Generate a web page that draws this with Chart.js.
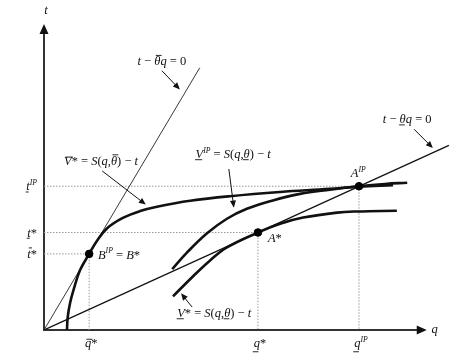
<!DOCTYPE html>
<html>
<head>
<meta charset="utf-8">
<script src="https://cdn.jsdelivr.net/npm/chart.js@4.4.0/dist/chart.umd.min.js"></script>
<style>
  html, body { margin: 0; padding: 0; background: #fff; }
  #wrap { width: 475px; height: 355px; }
</style>
</head>
<body>
<div id="wrap"><canvas id="grafica" width="475" height="355"></canvas></div>
<script>
// Rectas de beneficio nulo (extremos)
const rectaAlta = [{x: 0, y: 0}, {x: 4.07, y: 6.86}];    // t - θ̄q = 0
const rectaBaja = [{x: 0, y: 0}, {x: 10.58, y: 4.83}];   // t - θq = 0

// Curvas de indiferencia (puntos leídos a ojo)
const curvaVAltaEstrella = [
    {x: 0.60, y: 0.00}, {x: 0.62, y: 0.34}, {x: 0.68, y: 0.70}, {x: 0.77, y: 1.04},
    {x: 0.94, y: 1.56}, {x: 1.18, y: 1.99}, {x: 1.39, y: 2.34}, {x: 1.65, y: 2.66},
    {x: 2.06, y: 2.93}, {x: 2.51, y: 3.11}, {x: 2.98, y: 3.23}, {x: 3.82, y: 3.38},
    {x: 4.86, y: 3.50}, {x: 6.17, y: 3.61}, {x: 7.47, y: 3.69}, {x: 8.23, y: 3.75},
    {x: 9.12, y: 3.79}
];
const curvaVBajaIP = [
    {x: 3.35, y: 1.59}, {x: 3.74, y: 2.03}, {x: 4.26, y: 2.53}, {x: 4.78, y: 2.91},
    {x: 5.30, y: 3.17}, {x: 5.98, y: 3.39}, {x: 6.69, y: 3.56}, {x: 7.47, y: 3.67},
    {x: 8.23, y: 3.76}, {x: 8.91, y: 3.82}, {x: 9.49, y: 3.85}
];
const curvaVBajaEstrella = [
    {x: 3.37, y: 0.88}, {x: 3.89, y: 1.40}, {x: 4.34, y: 1.82}, {x: 4.78, y: 2.16},
    {x: 5.59, y: 2.55}, {x: 6.17, y: 2.78}, {x: 6.77, y: 2.94}, {x: 7.66, y: 3.07},
    {x: 8.18, y: 3.10}, {x: 9.22, y: 3.12}
];

// Contratos: B* (=B^IP), A*, A^IP
const puntosContrato = [{x: 1.18, y: 1.99}, {x: 5.59, y: 2.55}, {x: 8.23, y: 3.76}];

// Etiquetas de los ejes (segmentos: texto, estilo)
// i = cursiva, n = normal, b = barra encima, u = subrayado, U = subrayado bajo descendente, s = superíndice
const etiquetasT = [
    [['t', 'iu'], ['IP', 'is']],
    [['t', 'iu'], ['*', 'n']],
    [['t', 'ib'], ['*', 'n']]
];
const ordenT = [2, 1, 0]; // qué contrato da cada t
const etiquetasQ = [
    [['q', 'ib'], ['*', 'n']],
    [['q', 'iU'], ['*', 'n']],
    [['q', 'iU'], ['IP', 'is']]
];

// Anotaciones con flecha (en unidades de la gráfica)
const anotaciones = [
    {texto: [['t', 'i'], [' − ', 'n'], ['θ', 'ib'], ['q', 'i'], [' = 0', 'n']],
     x: 3.08, y: 6.92, alinear: 'center', flecha: [3.08, 6.78, 3.55, 6.29]},
    {texto: [['V', 'ib'], ['*', 'n'], [' = ', 'n'], ['S', 'i'], ['(', 'n'], ['q', 'i'], [',', 'n'], ['θ', 'ib'], [')', 'n'], [' − ', 'n'], ['t', 'i']],
     x: 1.49, y: 4.32, alinear: 'center', flecha: [1.52, 4.16, 2.66, 3.28]},
    {texto: [['V', 'iu'], ['IP', 'is'], [' = ', 'n'], ['S', 'i'], ['(', 'n'], ['q', 'i'], [',', 'n'], ['θ', 'iu'], [')', 'n'], [' − ', 'n'], ['t', 'i']],
     x: 4.94, y: 4.50, alinear: 'center', flecha: [4.83, 4.21, 4.96, 3.20]},
    {texto: [['t', 'i'], [' − ', 'n'], ['θ', 'iu'], ['q', 'i'], [' = 0', 'n']],
     x: 9.49, y: 5.41, alinear: 'center', flecha: [9.67, 5.25, 10.16, 4.76]},
    {texto: [['V', 'iu'], ['*', 'n'], [' = ', 'n'], ['S', 'i'], ['(', 'n'], ['q', 'i'], [',', 'n'], ['θ', 'iu'], [')', 'n'], [' − ', 'n'], ['t', 'i']],
     x: 3.48, y: 0.34, alinear: 'left', flecha: [3.87, 0.60, 3.58, 0.96]},
    {texto: [['A', 'i'], ['IP', 'is']], x: 8.21, y: 4.00, alinear: 'center'},
    {texto: [['A', 'i'], ['*', 'n']], x: 5.85, y: 2.29, alinear: 'left'},
    {texto: [['B', 'i'], ['IP', 'is'], [' = ', 'n'], ['B', 'i'], ['*', 'n']], x: 1.41, y: 1.87, alinear: 'left'}
];

const FUENTE = '"Liberation Serif", "DejaVu Serif", serif';
const TAM = 12.5;

// Dibuja texto matemático simple
function dibujarTexto(ctx, segs, x, y, alinear, tam) {
    const fuenteDe = (st) => (st.includes('i') ? 'italic ' : '') + (st.includes('s') ? tam * 0.62 : tam) + 'px ' + FUENTE;
    let total = 0;
    const anchos = segs.map(([txt, st]) => {
        ctx.font = fuenteDe(st);
        const w = ctx.measureText(txt).width;
        total += w;
        return w;
    });
    let cx = x;
    if (alinear === 'center') cx = x - total / 2;
    if (alinear === 'right') cx = x - total;
    ctx.fillStyle = '#111';
    ctx.strokeStyle = '#111';
    ctx.lineWidth = 0.9;
    ctx.textBaseline = 'alphabetic';
    ctx.textAlign = 'left';
    segs.forEach(([txt, st], k) => {
        ctx.font = fuenteDe(st);
        const yy = st.includes('s') ? y - tam * 0.42 : y;
        ctx.fillText(txt, cx, yy);
        const w = anchos[k];
        if (st.includes('b')) {
            const ya = y - tam * (txt === 'θ' || txt === 't' ? 0.8 : 0.62);
            ctx.beginPath(); ctx.moveTo(cx + tam * 0.12, ya); ctx.lineTo(cx + w + tam * 0.1, ya); ctx.stroke();
        }
        if (st.includes('u')) {
            const yb = y + tam * 0.14;
            ctx.beginPath(); ctx.moveTo(cx - 0.5, yb); ctx.lineTo(cx + w - 1, yb); ctx.stroke();
        }
        if (st.includes('U')) {
            const yb = y + tam * 0.38;
            ctx.beginPath(); ctx.moveTo(cx - 1, yb); ctx.lineTo(cx + w - 1.5, yb); ctx.stroke();
        }
        cx += w;
    });
}

function flecha(ctx, x1, y1, x2, y2, largo, ancho) {
    const ang = Math.atan2(y2 - y1, x2 - x1);
    ctx.beginPath();
    ctx.moveTo(x1, y1);
    ctx.lineTo(x2 - Math.cos(ang) * largo * 0.8, y2 - Math.sin(ang) * largo * 0.8);
    ctx.stroke();
    ctx.beginPath();
    ctx.moveTo(x2, y2);
    ctx.lineTo(x2 - Math.cos(ang) * largo + Math.sin(ang) * ancho, y2 - Math.sin(ang) * largo - Math.cos(ang) * ancho);
    ctx.lineTo(x2 - Math.cos(ang) * largo - Math.sin(ang) * ancho, y2 - Math.sin(ang) * largo + Math.cos(ang) * ancho);
    ctx.closePath();
    ctx.fill();
}

// Ejes con flecha
const pluginEjes = {
    id: 'ejes',
    beforeDatasetsDraw(chart) {
        const {ctx, scales: {x, y}} = chart;
        const x0 = x.getPixelForValue(0), y0 = y.getPixelForValue(0);
        ctx.save();
        ctx.strokeStyle = '#333';
        ctx.fillStyle = '#111';
        ctx.lineWidth = 2;
        flecha(ctx, x0, y0 + 1, x0, y.getPixelForValue(8.0), 10, 4.5);
        flecha(ctx, x0 - 1, y0, x.getPixelForValue(10.0), y0, 10, 4.5);
        ctx.restore();
    }
};

// Textos y flechas de anotación
const pluginTextos = {
    id: 'textos',
    afterDatasetsDraw(chart) {
        const {ctx, scales: {x, y}} = chart;
        ctx.save();
        anotaciones.forEach((a) => {
            if (a.flecha) {
                ctx.strokeStyle = '#111';
                ctx.fillStyle = '#111';
                ctx.lineWidth = 1;
                const [q1, t1, q2, t2] = a.flecha;
                flecha(ctx, x.getPixelForValue(q1), y.getPixelForValue(t1), x.getPixelForValue(q2), y.getPixelForValue(t2), 7, 3);
            }
            dibujarTexto(ctx, a.texto, x.getPixelForValue(a.x), y.getPixelForValue(a.y), a.alinear, TAM);
        });
        const x0 = x.getPixelForValue(0), y0 = y.getPixelForValue(0);
        etiquetasT.forEach((segs, k) => {
            const p = puntosContrato[ordenT[k]];
            dibujarTexto(ctx, segs, x0 - 7, y.getPixelForValue(p.y) + 4, 'right', TAM);
        });
        etiquetasQ.forEach((segs, k) => {
            dibujarTexto(ctx, segs, x.getPixelForValue(puntosContrato[k].x) + 2, y0 + 17, 'center', TAM);
        });
        dibujarTexto(ctx, [['t', 'i']], x0 + 2, y.getPixelForValue(8.0) - 10, 'center', TAM);
        dibujarTexto(ctx, [['q', 'i']], x.getPixelForValue(10.0) + 8, y0 + 3, 'center', TAM);
        ctx.restore();
    }
};

// Guías punteadas desde cada contrato hasta los ejes
const guias = puntosContrato.map((p) => ({
    data: [{x: 0, y: p.y}, {x: p.x, y: p.y}, {x: p.x, y: 0}],
    borderColor: '#9a9a9a',
    borderWidth: 1,
    borderDash: [1.5, 1.5],
    pointRadius: 0,
    tension: 0,
    order: 5
}));

const curva = (datos) => ({
    data: datos,
    borderColor: '#111',
    borderWidth: 2.6,
    pointRadius: 0,
    tension: 0.4,
    order: 2
});

const config = {
    type: 'line',
    data: {
        datasets: [
            {data: puntosContrato, showLine: false, pointRadius: 3.8, pointBackgroundColor: '#000', pointBorderColor: '#000', order: 0},
            curva(curvaVAltaEstrella),
            curva(curvaVBajaIP),
            curva(curvaVBajaEstrella),
            {data: rectaAlta, borderColor: '#222', borderWidth: 0.9, pointRadius: 0, order: 3},
            {data: rectaBaja, borderColor: '#111', borderWidth: 1.3, pointRadius: 0, order: 3},
            ...guias
        ]
    },
    options: {
        responsive: false,
        animation: false,
        devicePixelRatio: 1,
        layout: {padding: {left: 44, right: 10, top: 3, bottom: 25}},
        scales: {
            x: {type: 'linear', min: 0, max: 11, display: false},
            y: {type: 'linear', min: 0, max: 8.5, display: false}
        },
        plugins: {legend: {display: false}, tooltip: {enabled: false}}
    },
    plugins: [pluginEjes, pluginTextos]
};

new Chart(document.getElementById('grafica'), config);
</script>
</body>
</html>
